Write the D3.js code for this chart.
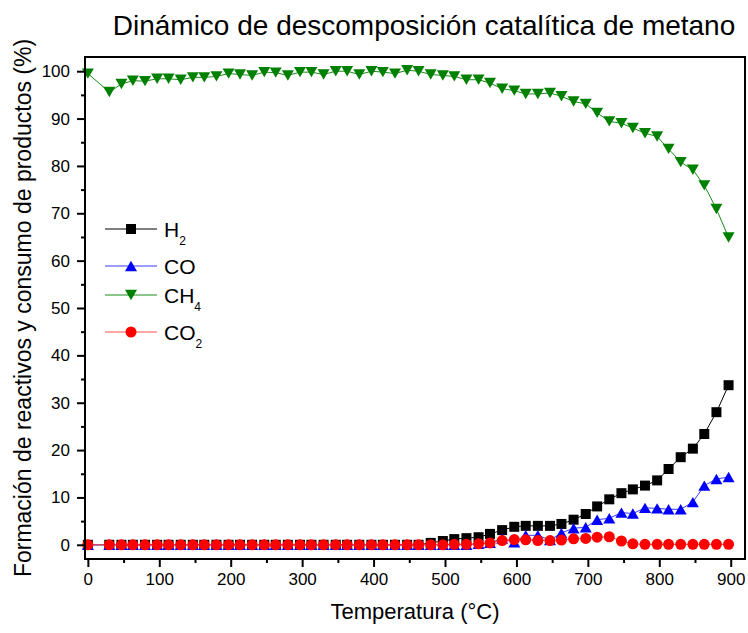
<!DOCTYPE html>
<html>
<head>
<meta charset="utf-8">
<script src="https://cdn.jsdelivr.net/npm/d3@7/dist/d3.min.js"></script>
<style>
  html, body { margin: 0; padding: 0; background: #fff; }
  svg text { font-family: Arial, "Liberation Sans", sans-serif; fill: #000; }
</style>
</head>
<body>
<svg id="chart" width="748" height="633"></svg>
<script>
// Temperatures (°C) of each measurement
const temps = [0, 30, 47, 63, 80, 97, 113, 130, 147, 163, 180, 197, 213, 230, 247, 263, 280, 297,
  313, 330, 347, 363, 380, 397, 413, 430, 447, 463, 480, 497, 513, 530, 547, 563, 580, 597,
  613, 630, 647, 663, 680, 697, 713, 730, 747, 763, 780, 797, 813, 830, 847, 863, 880, 897];

// Hydrogen formed (%)
const h2 = [0, 0, 0, 0, 0, 0, 0, 0, 0, 0, 0, 0, 0, 0, 0, 0, 0, 0,
  0, 0, 0, 0, 0, 0, 0, 0, 0, 0, 0.4, 0.8, 1.2, 1.4, 1.6, 2.3, 3.1, 3.8,
  4.0, 4.0, 4.0, 4.4, 5.3, 6.5, 8.1, 9.6, 10.9, 11.7, 12.5, 13.6, 16.0, 18.5, 20.3, 23.4, 28.0, 33.7];

// Carbon monoxide formed (%)
const co = [0, 0, 0, 0, 0, 0, 0, 0, 0, 0, 0, 0, 0, 0, 0, 0, 0, 0,
  0, 0, 0, 0, 0, 0, 0, 0, 0, 0, 0, 0, 0, 0, 0.2, 0.4, 1.3, 0.5,
  2.0, 2.0, 1.0, 2.5, 3.5, 3.7, 5.3, 5.6, 6.8, 6.6, 7.8, 7.7, 7.5, 7.5, 9.0, 12.5, 13.9, 14.3];

// Methane remaining (%)
const ch4 = [99.5, 95.6, 97.3, 98.0, 97.9, 98.4, 98.4, 98.2, 98.7, 98.7, 98.9, 99.5, 99.3, 99.1, 99.8, 99.7, 99.1, 99.8,
  99.8, 99.3, 100.0, 100.0, 99.3, 100.0, 99.8, 99.5, 100.2, 100.0, 99.3, 99.1, 98.9, 98.2, 98.2, 97.5, 96.3, 95.9,
  95.2, 95.2, 95.4, 94.7, 93.6, 93.1, 91.2, 89.4, 89.0, 88.0, 86.9, 86.2, 83.6, 80.8, 79.2, 75.9, 70.9, 64.9];

// Carbon dioxide formed (%)
const co2 = [0, 0, 0, 0, 0, 0, 0, 0, 0, 0, 0, 0, 0, 0, 0, 0, 0, 0,
  0, 0, 0, 0, 0, 0, 0, 0, 0, 0, 0, 0, 0.1, 0.1, 0.2, 0.4, 0.9, 1.1,
  1.05, 0.9, 0.9, 1.0, 1.25, 1.35, 1.6, 1.7, 0.8, 0.2, 0.1, 0.1, 0.1, 0.1, 0.1, 0.1, 0.1, 0.1];

const xTicks = [0, 100, 200, 300, 400, 500, 600, 700, 800, 900];
const xMinor = [50, 150, 250, 350, 450, 550, 650, 750, 850];
const yTicks = [0, 10, 20, 30, 40, 50, 60, 70, 80, 90, 100];
const yMinor = [5, 15, 25, 35, 45, 55, 65, 75, 85, 95];

const seriesNames = ["H", "CO", "CH", "CO"];
const seriesSubs = ["2", "", "4", "2"];
const seriesColors = ["#000000", "#0000ff", "#008000", "#ff0000"];
const seriesLineColors = ["#000000", "#3b3bff", "#1a8a1a", "#ff5050"];
const seriesShapes = ["square", "up", "down", "circle"];
const seriesValues = [h2, co, ch4, co2];

const svg = d3.select("#chart");
const plot = { left: 85, top: 57, right: 745, bottom: 559 };

const x = d3.scaleLinear().domain([-4, 920]).range([plot.left, plot.right]);
const y = d3.scaleLinear().domain([-3, 103]).range([plot.bottom, plot.top]);

// Marker path generator, centred on the bounding box
function markerPath(shape) {
  if (shape === "square") return "M-5,-5H5V5H-5Z";
  if (shape === "up") return "M0,-5.2L6,5.2L-6,5.2Z";
  if (shape === "down") return "M0,5.2L6,-5.2L-6,-5.2Z";
  return d3.symbol(d3.symbolCircle, 95)();
}

const line = d3.line().x(d => x(d[0])).y(d => y(d[1]));

// Series: connecting line then markers, drawn in legend order
seriesValues.forEach((vals, i) => {
  const pts = temps.map((t, k) => [t, vals[k]]);
  const g = svg.append("g");
  g.append("path")
    .attr("d", line(pts))
    .attr("fill", "none")
    .attr("stroke", seriesLineColors[i])
    .attr("stroke-width", 1);
  g.selectAll("path.m").data(pts).enter().append("path")
    .attr("class", "m")
    .attr("d", markerPath(seriesShapes[i]))
    .attr("transform", d => `translate(${x(d[0])},${y(d[1])})`)
    .attr("fill", seriesColors[i]);
});

// Frame
svg.append("rect")
  .attr("x", plot.left).attr("y", plot.top)
  .attr("width", plot.right - plot.left).attr("height", plot.bottom - plot.top)
  .attr("fill", "none").attr("stroke", "#000").attr("stroke-width", 2);

// Bottom axis
svg.append("g").attr("transform", `translate(0,${plot.bottom})`)
  .call(d3.axisBottom(x).tickValues(xTicks).tickSize(8).tickPadding(6).tickFormat(d3.format("d")));
svg.append("g").attr("transform", `translate(0,${plot.bottom})`)
  .call(d3.axisBottom(x).tickValues(xMinor).tickSize(4).tickFormat(""));

// Left axis
svg.append("g").attr("transform", `translate(${plot.left},0)`)
  .call(d3.axisLeft(y).tickValues(yTicks).tickSize(8).tickPadding(7).tickFormat(d3.format("d")));
svg.append("g").attr("transform", `translate(${plot.left},0)`)
  .call(d3.axisLeft(y).tickValues(yMinor).tickSize(4).tickFormat(""));

svg.selectAll(".domain").remove();
svg.selectAll(".tick line").attr("stroke", "#000").attr("stroke-width", 2);
svg.selectAll(".tick text").attr("font-size", 17).attr("font-family", "Arial, 'Liberation Sans', sans-serif");

// Titles
svg.append("text")
  .attr("x", 424).attr("y", 35)
  .attr("text-anchor", "middle")
  .attr("font-size", 28)
  .text("Dinámico de descomposición catalítica de metano");

svg.append("text")
  .attr("x", (plot.left + plot.right) / 2).attr("y", 619)
  .attr("text-anchor", "middle")
  .attr("font-size", 22)
  .text("Temperatura (°C)");

svg.append("text")
  .attr("transform", `translate(31,${(plot.top + plot.bottom) / 2}) rotate(-90)`)
  .attr("text-anchor", "middle")
  .attr("font-size", 23)
  .text("Formación de reactivos y consumo de productos (%)");

// Legend
const legendRows = [229, 266, 295, 332];
const legend = svg.append("g");
seriesNames.forEach((name, i) => {
  const ly = legendRows[i];
  legend.append("line")
    .attr("x1", 105).attr("x2", 157).attr("y1", ly).attr("y2", ly)
    .attr("stroke", seriesLineColors[i]).attr("stroke-width", 1);
  legend.append("path")
    .attr("d", markerPath(seriesShapes[i]))
    .attr("transform", `translate(131,${ly})`)
    .attr("fill", seriesColors[i]);
  const t = legend.append("text")
    .attr("x", 164).attr("y", ly + 8)
    .attr("font-size", 21)
    .text(name);
  if (seriesSubs[i]) {
    t.append("tspan").attr("dy", 8).attr("font-size", 12).text(seriesSubs[i]);
  }
});
</script>
</body>
</html>
